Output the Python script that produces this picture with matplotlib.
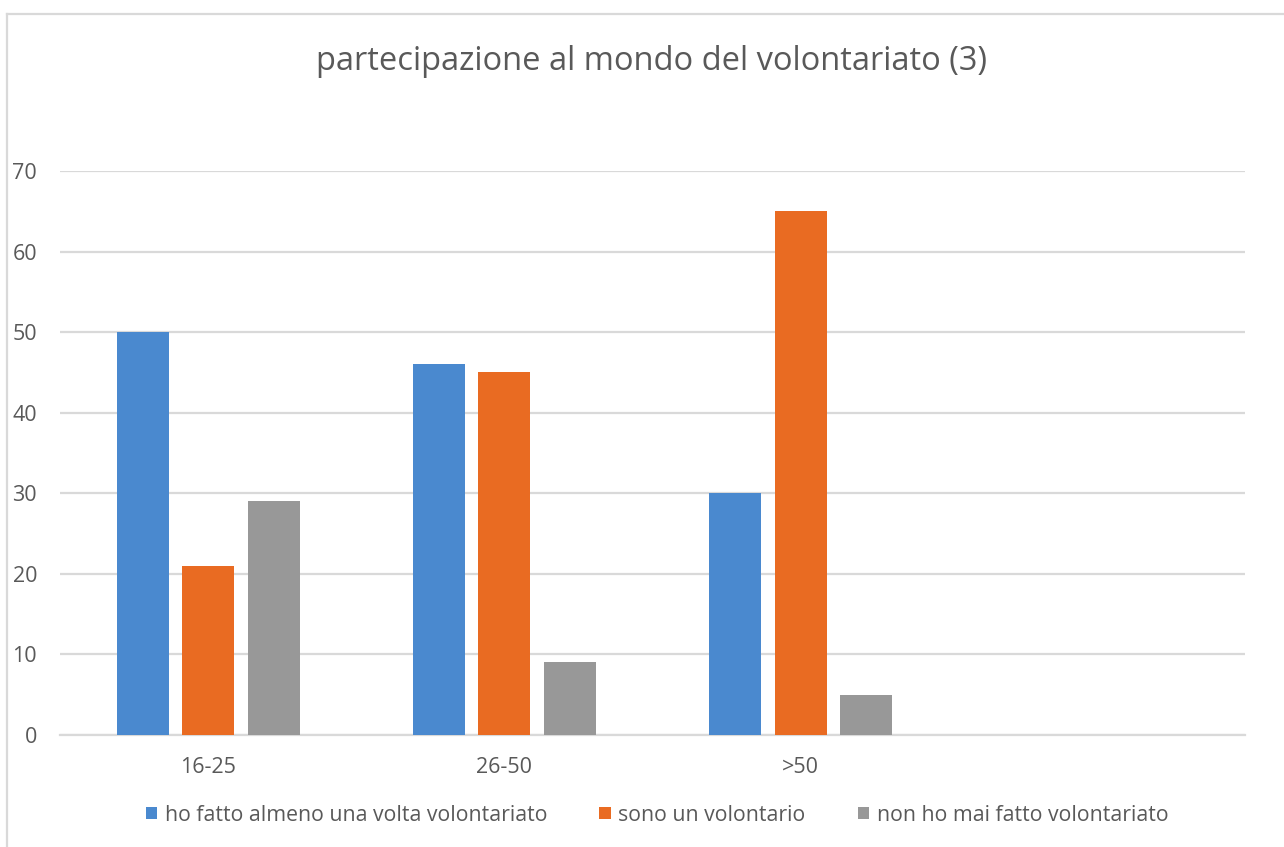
import numpy as np
import matplotlib
matplotlib.use("Agg")
import matplotlib.pyplot as plt
from matplotlib.lines import Line2D

plt.rcParams['font.family'] = ['Open Sans', 'DejaVu Sans']

categories = ['16-25', '26-50', '>50', '']
series_names = ['ho fatto almeno una volta volontariato',
                'sono un volontario',
                'non ho mai fatto volontariato']
almeno_una_volta = [50, 46, 30, np.nan]
volontario = [21, 45, 65, np.nan]
mai = [29, 9, 5, np.nan]
yticks = [0, 10, 20, 30, 40, 50, 60, 70]

colors = ['#4A89CF', '#E96B22', '#989898']
text_color = '#595959'
grid_color = '#D9D9D9'

W, H = 1284, 847
fig = plt.figure(figsize=(W / 100, H / 100), dpi=100)
fig.patch.set_facecolor('white')

# outer chart border (only top and left visible in the crop)
fig.add_artist(Line2D([7 / W, 1], [1 - 14 / H, 1 - 14 / H], color=grid_color, lw=1.6,
                      transform=fig.transFigure))
fig.add_artist(Line2D([7 / W, 7 / W], [0, 1 - 14 / H], color=grid_color, lw=1.6,
                      transform=fig.transFigure))

left, right = 60 / W, 1245 / W
bottom, top = 1 - 735 / H, 1 - 171 / H
ax = fig.add_axes([left, bottom, right - left, top - bottom])

x = np.arange(len(categories))
width = 0.176
offset = 0.221
for i, vals in enumerate([almeno_una_volta, volontario, mai]):
    ax.bar(x + (i - 1) * offset, vals, width, color=colors[i], label=series_names[i], zorder=3)

ax.set_xlim(-0.5, len(categories) - 0.5)
ax.set_ylim(0, 70)
ax.set_yticks(yticks)
ax.set_xticks(x)
ax.set_xticklabels(categories)
ax.yaxis.grid(True, color=grid_color, lw=1.6, zorder=0)
ax.set_axisbelow(True)
for s in ['top', 'right', 'left']:
    ax.spines[s].set_visible(False)
ax.spines['bottom'].set_color(grid_color)
ax.spines['bottom'].set_linewidth(1.6)
ax.tick_params(axis='both', length=0, labelsize=15.5, colors=text_color)
ax.tick_params(axis='y', pad=16.5)
ax.tick_params(axis='x', pad=16)

fig.text(652 / W, 1 - 62 / H, 'partecipazione al mondo del volontariato (3)',
         ha='center', va='center', fontsize=23.5, color=text_color)

fig.legend(loc='center', bbox_to_anchor=(657 / W, 1 - 815 / H), ncol=3, frameon=False,
           fontsize=15.3, handlelength=0.55, handleheight=0.55, handletextpad=0.35,
           columnspacing=2.45, labelcolor=text_color)

fig.savefig('out.png', dpi=100, facecolor='white')
